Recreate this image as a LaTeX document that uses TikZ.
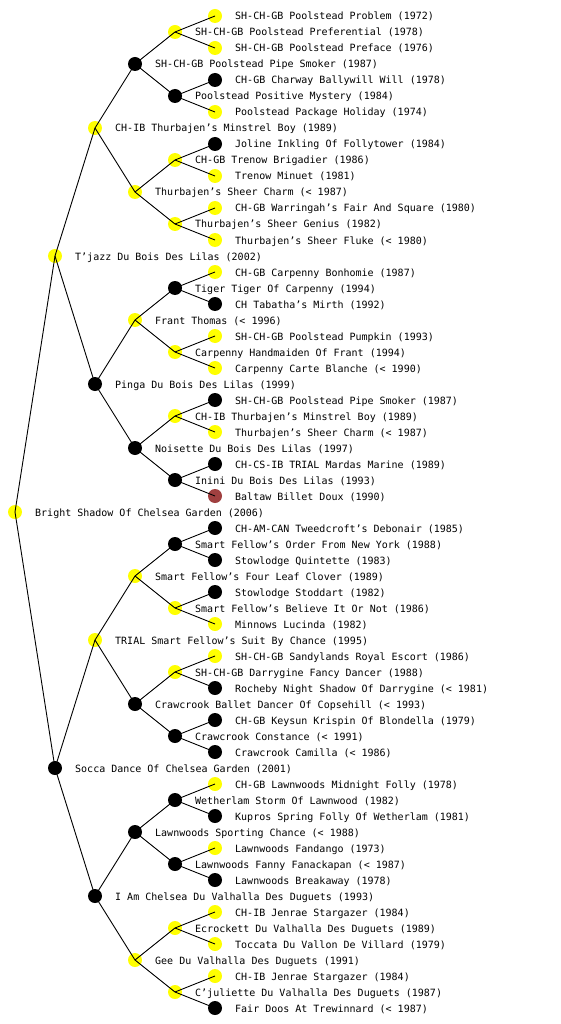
\documentclass[tikz,border=0pt]{standalone}
\usepackage{fontspec}
\setmonofont{DejaVu Sans Mono}
\definecolor{brn}{RGB}{160,64,64}
\definecolor{yel}{RGB}{255,255,0}
\tikzset{
  dot/.style={circle,inner sep=0pt,minimum size=14pt,draw=none},
  Y/.style={dot,fill=yel},
  B/.style={dot,fill=black},
  R/.style={dot,fill=brn},
  lab/.style={anchor=base west,inner sep=0pt,font=\ttfamily\fontsize{10}{12}\selectfont},
  edge/.style={draw=black,line width=0.9pt}
}
\newcommand\pn[5]{%
  \node[#4] (n#1) at ({15+40*#2},{(2*#3+1)*(512/(2^#2))}) {};
  \node[lab] (t#1) at ({35+40*#2},{(2*#3+1)*(512/(2^#2))+4}) {#5};
}
\begin{document}
\begin{tikzpicture}[x=1pt,y=-1pt]
\useasboundingbox (0,0) rectangle (560,1024);
\fill[white] (0,0) rectangle (560,1024);
% gen 0
\pn{1}{0}{0}{Y}{Bright Shadow Of Chelsea Garden (2006)}
% gen 1
\pn{2}{1}{0}{Y}{T’jazz Du Bois Des Lilas (2002)}
\pn{3}{1}{1}{B}{Socca Dance Of Chelsea Garden (2001)}
% gen 2
\pn{4}{2}{0}{Y}{CH-IB Thurbajen’s Minstrel Boy (1989)}
\pn{5}{2}{1}{B}{Pinga Du Bois Des Lilas (1999)}
\pn{6}{2}{2}{Y}{TRIAL Smart Fellow’s Suit By Chance (1995)}
\pn{7}{2}{3}{B}{I Am Chelsea Du Valhalla Des Duguets (1993)}
% gen 3
\pn{8}{3}{0}{B}{SH-CH-GB Poolstead Pipe Smoker (1987)}
\pn{9}{3}{1}{Y}{Thurbajen’s Sheer Charm (< 1987)}
\pn{10}{3}{2}{Y}{Frant Thomas (< 1996)}
\pn{11}{3}{3}{B}{Noisette Du Bois Des Lilas (1997)}
\pn{12}{3}{4}{Y}{Smart Fellow’s Four Leaf Clover (1989)}
\pn{13}{3}{5}{B}{Crawcrook Ballet Dancer Of Copsehill (< 1993)}
\pn{14}{3}{6}{B}{Lawnwoods Sporting Chance (< 1988)}
\pn{15}{3}{7}{Y}{Gee Du Valhalla Des Duguets (1991)}
% gen 4
\pn{16}{4}{0}{Y}{SH-CH-GB Poolstead Preferential (1978)}
\pn{17}{4}{1}{B}{Poolstead Positive Mystery (1984)}
\pn{18}{4}{2}{Y}{CH-GB Trenow Brigadier (1986)}
\pn{19}{4}{3}{Y}{Thurbajen’s Sheer Genius (1982)}
\pn{20}{4}{4}{B}{Tiger Tiger Of Carpenny (1994)}
\pn{21}{4}{5}{Y}{Carpenny Handmaiden Of Frant (1994)}
\pn{22}{4}{6}{Y}{CH-IB Thurbajen’s Minstrel Boy (1989)}
\pn{23}{4}{7}{B}{Inini Du Bois Des Lilas (1993)}
\pn{24}{4}{8}{B}{Smart Fellow’s Order From New York (1988)}
\pn{25}{4}{9}{Y}{Smart Fellow’s Believe It Or Not (1986)}
\pn{26}{4}{10}{Y}{SH-CH-GB Darrygine Fancy Dancer (1988)}
\pn{27}{4}{11}{B}{Crawcrook Constance (< 1991)}
\pn{28}{4}{12}{B}{Wetherlam Storm Of Lawnwood (1982)}
\pn{29}{4}{13}{B}{Lawnwoods Fanny Fanackapan (< 1987)}
\pn{30}{4}{14}{Y}{Ecrockett Du Valhalla Des Duguets (1989)}
\pn{31}{4}{15}{Y}{C’juliette Du Valhalla Des Duguets (1987)}
% gen 5
\pn{32}{5}{0}{Y}{SH-CH-GB Poolstead Problem (1972)}
\pn{33}{5}{1}{Y}{SH-CH-GB Poolstead Preface (1976)}
\pn{34}{5}{2}{B}{CH-GB Charway Ballywill Will (1978)}
\pn{35}{5}{3}{Y}{Poolstead Package Holiday (1974)}
\pn{36}{5}{4}{B}{Joline Inkling Of Follytower (1984)}
\pn{37}{5}{5}{Y}{Trenow Minuet (1981)}
\pn{38}{5}{6}{Y}{CH-GB Warringah’s Fair And Square (1980)}
\pn{39}{5}{7}{Y}{Thurbajen’s Sheer Fluke (< 1980)}
\pn{40}{5}{8}{Y}{CH-GB Carpenny Bonhomie (1987)}
\pn{41}{5}{9}{B}{CH Tabatha’s Mirth (1992)}
\pn{42}{5}{10}{Y}{SH-CH-GB Poolstead Pumpkin (1993)}
\pn{43}{5}{11}{Y}{Carpenny Carte Blanche (< 1990)}
\pn{44}{5}{12}{B}{SH-CH-GB Poolstead Pipe Smoker (1987)}
\pn{45}{5}{13}{Y}{Thurbajen’s Sheer Charm (< 1987)}
\pn{46}{5}{14}{B}{CH-CS-IB TRIAL Mardas Marine (1989)}
\pn{47}{5}{15}{R}{Baltaw Billet Doux (1990)}
\pn{48}{5}{16}{B}{CH-AM-CAN Tweedcroft’s Debonair (1985)}
\pn{49}{5}{17}{B}{Stowlodge Quintette (1983)}
\pn{50}{5}{18}{B}{Stowlodge Stoddart (1982)}
\pn{51}{5}{19}{Y}{Minnows Lucinda (1982)}
\pn{52}{5}{20}{Y}{SH-CH-GB Sandylands Royal Escort (1986)}
\pn{53}{5}{21}{B}{Rocheby Night Shadow Of Darrygine (< 1981)}
\pn{54}{5}{22}{B}{CH-GB Keysun Krispin Of Blondella (1979)}
\pn{55}{5}{23}{B}{Crawcrook Camilla (< 1986)}
\pn{56}{5}{24}{Y}{CH-GB Lawnwoods Midnight Folly (1978)}
\pn{57}{5}{25}{B}{Kupros Spring Folly Of Wetherlam (1981)}
\pn{58}{5}{26}{Y}{Lawnwoods Fandango (1973)}
\pn{59}{5}{27}{B}{Lawnwoods Breakaway (1978)}
\pn{60}{5}{28}{Y}{CH-IB Jenrae Stargazer (1984)}
\pn{61}{5}{29}{Y}{Toccata Du Vallon De Villard (1979)}
\pn{62}{5}{30}{Y}{CH-IB Jenrae Stargazer (1984)}
\pn{63}{5}{31}{B}{Fair Doos At Trewinnard (< 1987)}
% edges
\foreach \k [evaluate=\k as \a using int(2*\k), evaluate=\k as \b using int(2*\k+1)] in {1,...,31} {
  \draw[edge] (n\k.center) -- (n\a.center);
  \draw[edge] (n\k.center) -- (n\b.center);
}
\end{tikzpicture}
\end{document}
